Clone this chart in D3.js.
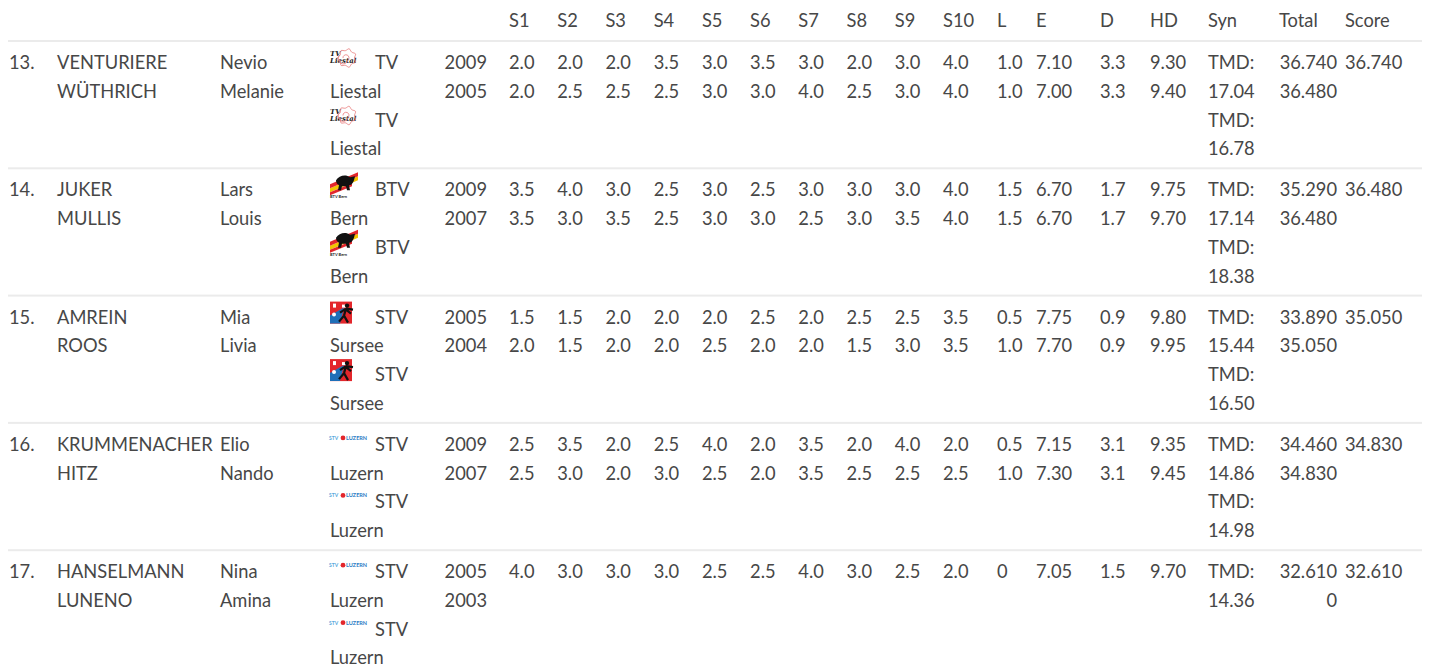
<!DOCTYPE html>
<html>
<head>
<meta charset="utf-8">
<script src="https://cdn.jsdelivr.net/npm/d3@7"></script>
<style>
  body { margin: 0; background: #fff; }
  svg text { font-family: Lato, "Open Sans", sans-serif; font-size: 18.3px; fill: #474747; }
</style>
</head>
<body>
<svg id="chart"></svg>
<script>
const width = 1442, height = 669;

// table data
const scoreCols = ["S1", "S2", "S3", "S4", "S5", "S6", "S7", "S8", "S9", "S10"];
const extraCols = ["L", "E", "D", "HD", "Syn", "Total", "Score"];
const ranks = ["13.", "14.", "15.", "16.", "17."];
const lastNames = [["VENTURIERE", "WÜTHRICH"], ["JUKER", "MULLIS"], ["AMREIN", "ROOS"], ["KRUMMENACHER", "HITZ"], ["HANSELMANN", "LUNENO"]];
const firstNames = [["Nevio", "Melanie"], ["Lars", "Louis"], ["Mia", "Livia"], ["Elio", "Nando"], ["Nina", "Amina"]];
const clubs = [["TV", "Liestal"], ["BTV", "Bern"], ["STV", "Sursee"], ["STV", "Luzern"], ["STV", "Luzern"]];
const clubLogos = ["liestal", "bern", "sursee", "luzern", "luzern"];
const years = [[2009, 2005], [2009, 2007], [2005, 2004], [2009, 2007], [2005, 2003]];
const sScores = [
  [[2.0, 2.0, 2.0, 3.5, 3.0, 3.5, 3.0, 2.0, 3.0, 4.0], [2.0, 2.5, 2.5, 2.5, 3.0, 3.0, 4.0, 2.5, 3.0, 4.0]],
  [[3.5, 4.0, 3.0, 2.5, 3.0, 2.5, 3.0, 3.0, 3.0, 4.0], [3.5, 3.0, 3.5, 2.5, 3.0, 3.0, 2.5, 3.0, 3.5, 4.0]],
  [[1.5, 1.5, 2.0, 2.0, 2.0, 2.5, 2.0, 2.5, 2.5, 3.5], [2.0, 1.5, 2.0, 2.0, 2.5, 2.0, 2.0, 1.5, 3.0, 3.5]],
  [[2.5, 3.5, 2.0, 2.5, 4.0, 2.0, 3.5, 2.0, 4.0, 2.0], [2.5, 3.0, 2.0, 3.0, 2.5, 2.0, 3.5, 2.5, 2.5, 2.5]],
  [[4.0, 3.0, 3.0, 3.0, 2.5, 2.5, 4.0, 3.0, 2.5, 2.0], []]
];
const lScores = [[1.0, 1.0], [1.5, 1.5], [0.5, 1.0], [0.5, 1.0], [0]];
const eScores = [[7.10, 7.00], [6.70, 6.70], [7.75, 7.70], [7.15, 7.30], [7.05]];
const dScores = [[3.3, 3.3], [1.7, 1.7], [0.9, 0.9], [3.1, 3.1], [1.5]];
const hdScores = [[9.30, 9.40], [9.75, 9.70], [9.80, 9.95], [9.35, 9.45], [9.70]];
const synScores = [[17.04, 16.78], [17.14, 18.38], [15.44, 16.50], [14.86, 14.98], [14.36]];
const totals = [[36.740, 36.480], [35.290, 36.480], [33.890, 35.050], [34.460, 34.830], [32.610, 0]];
const finalScores = [36.740, 36.480, 35.050, 34.830, 32.610];

const svg = d3.select("#chart").attr("width", width).attr("height", height);

// layout
const left = 8, right = 1422, headerBase = 27, headerLine = 40;
const rowH = 127.3, lineH = 28.75, firstBase = 28;
const y = d3.scaleLinear().domain([0, ranks.length]).range([headerLine + 1, headerLine + 1 + ranks.length * rowH]);
const xS = d3.scalePoint().domain(scoreCols).range([509, 943]);
const xX = d3.scaleOrdinal().domain(extraCols).range([997, 1036, 1100, 1150, 1208, 1279, 1345]);
const col = { rank: 9, last: 57, first: 220, logo: 330, clubText: 375, yearEnd: 487, totalEnd: 1337 };

const f1 = d3.format(".1f"), f2 = d3.format(".2f"), f3 = d3.format(".3f");
const zeroOr = fmt => v => v === 0 ? "0" : fmt(v);

// header
svg.append("g").selectAll("text")
  .data(scoreCols.concat(extraCols))
  .join("text")
    .attr("x", d => scoreCols.includes(d) ? xS(d) : xX(d))
    .attr("y", headerBase)
    .text(d => d);

// row separators
svg.append("g").selectAll("rect")
  .data(d3.range(ranks.length))
  .join("rect")
    .attr("x", left)
    .attr("y", i => y(i) - 1)
    .attr("width", right - left)
    .attr("height", 2)
    .attr("fill", "#ebebeb");

const rows = svg.append("g").selectAll("g.row")
  .data(d3.range(ranks.length))
  .join("g")
    .attr("class", "row")
    .attr("transform", i => `translate(0,${y(i) + firstBase})`);

// helper: add lines of text at x
function addLines(sel, x, getLines, anchor) {
  sel.each(function (i) {
    d3.select(this).append("g").selectAll("text")
      .data(getLines(i))
      .join("text")
        .attr("x", x)
        .attr("y", (d, k) => k * lineH)
        .attr("text-anchor", anchor || "start")
        .text(d => d);
  });
}

addLines(rows, col.rank, i => [ranks[i]]);
addLines(rows, col.last, i => lastNames[i]);
addLines(rows, col.first, i => firstNames[i]);
addLines(rows, col.yearEnd, i => years[i].map(String), "end");

// club: logo + name, repeated per athlete
rows.each(function (i) {
  const g = d3.select(this);
  [0, 2].forEach(k => {
    const base = k * lineH;
    drawLogo(g.append("g").attr("transform", `translate(${col.logo},${base})`), clubLogos[i]);
    g.append("text").attr("x", col.clubText).attr("y", base).text(clubs[i][0]);
    g.append("text").attr("x", col.logo).attr("y", base + lineH).text(clubs[i][1]);
  });
});

// S scores
rows.each(function (i) {
  const g = d3.select(this);
  sScores[i].forEach((athlete, k) => {
    g.append("g").selectAll("text")
      .data(athlete)
      .join("text")
        .attr("x", (d, j) => xS(scoreCols[j]))
        .attr("y", k * lineH)
        .text(d => f1(d));
  });
});

addLines(rows, xX("L"), i => lScores[i].map(zeroOr(f1)));
addLines(rows, xX("E"), i => eScores[i].map(f2));
addLines(rows, xX("D"), i => dScores[i].map(f1));
addLines(rows, xX("HD"), i => hdScores[i].map(f2));
addLines(rows, xX("Syn"), i => synScores[i].flatMap(v => ["TMD:", f2(v)]));
addLines(rows, col.totalEnd, i => totals[i].map(zeroOr(f3)), "end");
addLines(rows, xX("Score"), i => [f3(finalScores[i])]);

// small club logos (baseline at y=0)
function drawLogo(g, kind) {
  if (kind === "liestal") {
    g.append("text").attr("x", 0).attr("y", -13)
      .style("font-family", "DejaVu Serif").style("font-size", "7px")
      .style("font-style", "italic").style("font-weight", "bold").style("fill", "#222").text("TV");
    g.append("text").attr("x", 0).attr("y", -6)
      .style("font-family", "DejaVu Serif").style("font-size", "7px")
      .style("font-style", "italic").style("font-weight", "bold").style("fill", "#222").text("Liestal");
    const gear = d3.range(0, 2 * Math.PI, Math.PI / 7).map((a, j) => {
      const r = j % 2 ? 9.5 : 7.5;
      return [17 + r * Math.cos(a), -11 + r * Math.sin(a)];
    });
    g.append("path").attr("d", d3.line().curve(d3.curveCardinalClosed)(gear))
      .attr("fill", "none").attr("stroke", "#e87a7a").attr("stroke-width", 0.8);
    g.append("path").attr("d", "M13,-11 a3,3 0 1,1 5,2 a5,5 0 1,1 -8,-5")
      .attr("fill", "none").attr("stroke", "#e87a7a").attr("stroke-width", 0.8);
  } else if (kind === "bern") {
    g.append("path").attr("d", "M0,-8 L28,-20 L28,-16 L0,-4 Z").attr("fill", "#f2c400");
    g.append("path").attr("d", "M0,-12 L28,-24 L28,-20 L0,-8 Z").attr("fill", "#e3262b");
    g.append("path").attr("d", "M0,-4 L22,-13 L22,-10 L0,-1 Z").attr("fill", "#e3262b");
    g.append("path")
      .attr("d", "M6,-16 C9,-21 16,-22 20,-19 L25,-20 L24,-16 C23,-13 21,-11 19,-11 L20,-6 L17,-6 L16,-10 L12,-10 L11,-6 L8,-6 L9,-11 C7,-12 6,-14 6,-16 Z")
      .attr("fill", "#111");
    g.append("text").attr("x", 0).attr("y", 2)
      .style("font-size", "4px").style("font-weight", "bold").style("fill", "#222").text("BTV Bern");
  } else if (kind === "sursee") {
    g.append("rect").attr("x", 0).attr("y", -22).attr("width", 22).attr("height", 22).attr("fill", "#e3262b");
    g.append("path").attr("d", "M0,-8 L14,-16 L10,0 L0,0 Z").attr("fill", "#1f6fb8");
    g.append("rect").attr("x", 3).attr("y", -20).attr("width", 3).attr("height", 4).attr("fill", "#fff");
    g.append("rect").attr("x", 12).attr("y", -19).attr("width", 4).attr("height", 3).attr("fill", "#fff");
    g.append("circle").attr("cx", 4).attr("cy", -9).attr("r", 2).attr("fill", "#fff");
    g.append("circle").attr("cx", 17).attr("cy", -18).attr("r", 2.2).attr("fill", "#111");
    g.append("path")
      .attr("d", "M16,-15 L23,-14 M16,-15 L10,-11 M16,-15 L14,-8 L9,-2 M14,-8 L18,-1 M16,-14 L21,-10")
      .attr("stroke", "#111").attr("stroke-width", 2.2).attr("fill", "none");
  } else if (kind === "luzern") {
    g.append("text").attr("x", -1).attr("y", -11)
      .style("font-size", "5px").style("font-weight", "bold").style("fill", "#5aa7dc").text("STV");
    g.append("circle").attr("cx", 13).attr("cy", -13).attr("r", 2.4).attr("fill", "#e3262b");
    g.append("text").attr("x", 16).attr("y", -11)
      .style("font-size", "5.5px").style("font-weight", "bold").style("fill", "#2b7cc4").text("LUZERN");
  }
}
</script>
</body>
</html>
